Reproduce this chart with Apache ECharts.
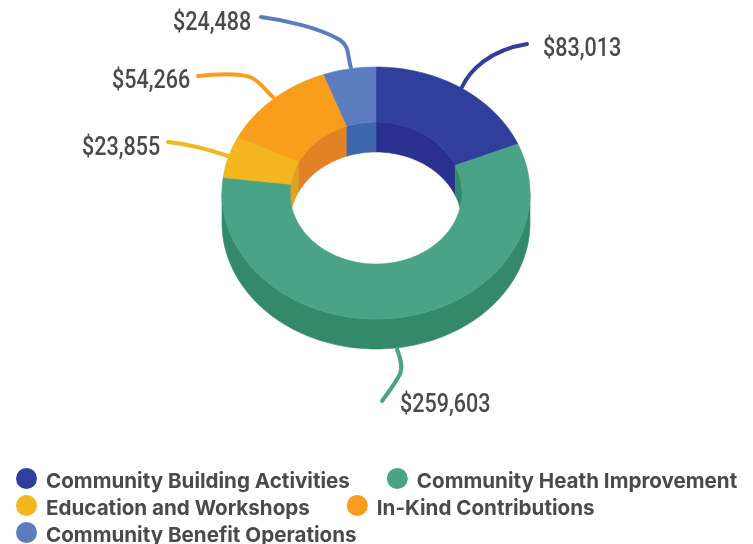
<!DOCTYPE html>
<html>
<head>
<meta charset="utf-8">
<style>
  html, body { margin: 0; padding: 0; background: #fff; }
  #chart { width: 753px; height: 544px; }
</style>
<script src="https://cdn.jsdelivr.net/npm/echarts@6/dist/echarts.min.js"></script>
</head>
<body>
<div id="chart"></div>
<script>
const categories = [
  "Community Building Activities",
  "Community Heath Improvement",
  "Education and Workshops",
  "In-Kind Contributions",
  "Community Benefit Operations",
];
const values = [83013, 259603, 23855, 54266, 24488];

const topColors = ["#2f3f9b", "#4aa386", "#f4b61f", "#f99d1c", "#5b7dbf"];
const wallColors = ["#2b2f8f", "#33896a", "#dfa324", "#e38224", "#3f67ae"];

// donut geometry, px
const cx = 376, cy = 193, rxOut = 154, ryOut = 126, rxIn = 86, ryIn = 71, depth = 30;

// value label position and leader line for each slice
const labelPos = [[543, 48], [400, 404], [82, 147], [112, 80], [173, 22]];
const leaders = [
  "M462,87 C470,70 490,50 527,44",
  "M397,349 C401,360 403,368 400,374 C396,382 388,393 382,401",
  "M168,142 C190,144 210,150 228,156",
  "M198,76 C215,74 240,73 250,77 C260,81 265,90 273,97",
  "M261,17 C285,20 320,28 340,40 C350,47 347,55 351,68",
];

const total = values.reduce((a, b) => a + b, 0);
const starts = [];
values.reduce((sum, v, i) => { starts[i] = sum / total * 360; return sum + v; }, 0);

// angle in degrees, clockwise from the top of the ellipse
const pt = (deg, rx, ry, dy = 0) => {
  const a = deg * Math.PI / 180;
  return [cx + rx * Math.sin(a), cy - ry * Math.cos(a) + dy];
};

const arc = (from, to, rx, ry, dy = 0) => {
  const pts = [];
  const n = Math.max(2, Math.ceil(Math.abs(to - from) / 1.5));
  for (let i = 0; i <= n; i++) pts.push(pt(from + (to - from) * i / n, rx, ry, dy));
  return pts;
};

const poly = (points, color) => ({
  type: "polygon",
  shape: { points },
  style: { fill: color, stroke: color, lineWidth: 0.6 },
});

const topSeries = categories.map((name, i) => ({
  type: "custom",
  name,
  coordinateSystem: "none",
  z: 3,
  silent: true,
  itemStyle: { color: topColors[i] },
  data: [values[i]],
  renderItem: (params, api) => {
    const from = starts[i];
    const to = from + api.value(0) / total * 360;
    return poly(arc(from, to, rxOut, ryOut).concat(arc(to, from, rxIn, ryIn)), topColors[i]);
  },
}));

// side walls go underneath the top faces
const wallSeries = {
  type: "custom",
  coordinateSystem: "none",
  z: 2,
  silent: true,
  data: values,
  renderItem: (params, api) => {
    const i = params.dataIndex;
    const from = starts[i];
    const to = from + api.value(0) / total * 360;
    const children = [];
    // outer wall, front half only
    const a = Math.max(from, 90), b = Math.min(to, 270);
    if (b > a) {
      children.push(poly(arc(a, b, rxOut, ryOut).concat(arc(b, a, rxOut, ryOut, depth)), wallColors[i]));
    }
    // inner wall, back half only
    [[Math.max(from, 0), Math.min(to, 90)], [Math.max(from, 270), Math.min(to, 360)]].forEach(([c, d]) => {
      if (d > c) {
        children.push(poly(arc(c, d, rxIn, ryIn).concat(arc(d, c, rxIn, ryIn, depth)), wallColors[i]));
      }
    });
    return { type: "group", children };
  },
};

// leader lines and value labels
const labelSeries = {
  type: "custom",
  coordinateSystem: "none",
  z: 4,
  silent: true,
  data: values,
  renderItem: (params, api) => {
    const i = params.dataIndex;
    return {
      type: "group",
      children: [
        {
          type: "path",
          shape: { pathData: leaders[i] },
          style: { fill: "none", stroke: topColors[i], lineWidth: 4, lineCap: "round" },
        },
        {
          type: "text",
          x: labelPos[i][0],
          y: labelPos[i][1] + 2,
          scaleX: 0.86,
          style: {
            text: "$" + api.value(0).toLocaleString("en-US"),
            fill: "#4a4a4a",
            font: "500 25px Roboto",
            verticalAlign: "middle",
          },
        },
      ],
    };
  },
};

const legendBase = {
  left: 11,
  icon: "circle",
  itemWidth: 21,
  itemHeight: 21,
  itemGap: 37,
  selectedMode: false,
  formatter: (name) => "{a|" + name + "}",
  textStyle: {
    rich: {
      a: {
        color: "#4a4a4a",
        fontFamily: "Inter",
        fontWeight: 700,
        fontSize: 20.6,
        padding: [6, 0, 0, 4],
      },
    },
  },
};

const chart = echarts.init(document.getElementById("chart"), null, { renderer: "canvas" });
chart.setOption({
  animation: false,
  backgroundColor: "#fff",
  legend: [
    { ...legendBase, top: 463, data: categories.slice(0, 2) },
    { ...legendBase, top: 490, data: categories.slice(2, 4) },
    { ...legendBase, top: 517, data: categories.slice(4) },
  ],
  series: [wallSeries].concat(topSeries, labelSeries),
});
</script>
</body>
</html>
